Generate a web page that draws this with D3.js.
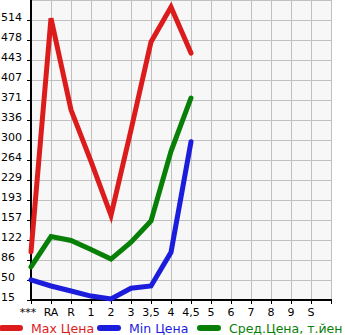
<!DOCTYPE html>
<html>
<head>
<meta charset="utf-8">
<script src="https://d3js.org/d3.v7.min.js"></script>
<style>
  body { margin: 0; background: #fff; }
  text { font-family: 'DejaVu Sans', sans-serif; }
</style>
</head>
<body>
<script>
  // categories on the x axis (last slot stays empty)
  var categories = ["***", "RA", "R", "1", "2", "3", "3,5", "4", "4,5", "5", "6", "7", "8", "9", "S"];
  // tick labels on the y axis
  var yTicks = [15, 50, 86, 122, 157, 193, 229, 264, 300, 336, 371, 407, 443, 478, 514];

  var maxPrice = [101, 517, 354, 262, 166, 318, 475, 537, 455];
  var minPrice = [51, 40, 31, 22, 17, 36, 40, 100, 297];
  var avgPrice = [74, 128, 121, 105, 88, 118, 156, 280, 375];

  var seriesNames = ["Max Цена", "Min Цена", "Сред.Цена, т.йен"];
  var seriesColors = ["#dc1c1c", "#1c1cdc", "#088008"];

  var W = 345, H = 335;
  var plotL = 31, plotR = 331, plotT = 0, plotB = 300;

  var svg = d3.select("body").append("svg")
    .attr("width", W)
    .attr("height", H);

  var step = (yTicks[yTicks.length - 1] - yTicks[0]) / (yTicks.length - 1);
  var y = d3.scaleLinear()
    .domain([yTicks[0], yTicks[yTicks.length - 1] + step])
    .range([plotB, plotT]);
  var x = d3.scaleLinear()
    .domain([0, categories.length])
    .range([plotL, plotR]);

  svg.append("rect")
    .attr("x", plotL).attr("y", plotT)
    .attr("width", plotR - plotL).attr("height", plotB - plotT)
    .attr("fill", "#f7f7f7");

  // grid
  var gridY = yTicks.concat([yTicks[yTicks.length - 1] + step]);
  svg.selectAll(".gy").data(gridY).enter().append("line")
    .attr("x1", plotL).attr("x2", plotR)
    .attr("y1", function(d) { return Math.round(y(d)) + 0.5; })
    .attr("y2", function(d) { return Math.round(y(d)) + 0.5; })
    .attr("stroke", "#c0c0c0");
  svg.selectAll(".gx").data(d3.range(1, categories.length + 1)).enter().append("line")
    .attr("x1", function(d) { return x(d) + 0.5; })
    .attr("x2", function(d) { return x(d) + 0.5; })
    .attr("y1", plotT).attr("y2", plotB)
    .attr("stroke", "#c0c0c0");

  // axes
  svg.append("line").attr("x1", plotL).attr("x2", plotL).attr("y1", plotT).attr("y2", plotB + 1)
    .attr("stroke", "#000").attr("stroke-width", 2);
  svg.append("line").attr("x1", plotL - 1).attr("x2", plotR + 1).attr("y1", plotB).attr("y2", plotB)
    .attr("stroke", "#000").attr("stroke-width", 2);

  svg.selectAll(".ty").data(yTicks).enter().append("line")
    .attr("x1", plotL - 4).attr("x2", plotL)
    .attr("y1", function(d) { return Math.round(y(d)) + 0.5; })
    .attr("y2", function(d) { return Math.round(y(d)) + 0.5; })
    .attr("stroke", "#000");
  svg.selectAll(".tx").data(d3.range(0, categories.length + 1)).enter().append("line")
    .attr("x1", function(d) { return x(d) + 0.5; })
    .attr("x2", function(d) { return x(d) + 0.5; })
    .attr("y1", plotB).attr("y2", plotB + 4)
    .attr("stroke", "#000");

  svg.selectAll(".ly").data(yTicks).enter().append("text")
    .attr("x", 1)
    .attr("y", function(d) { return y(d) + 1; })
    .attr("font-size", 11)
    .text(function(d) { return d; });

  svg.selectAll(".lx").data(categories).enter().append("text")
    .attr("x", function(d, i) { return x(i) - (i === 0 ? 3 : 0); })
    .attr("y", 316)
    .attr("text-anchor", "middle")
    .attr("font-size", 11)
    .text(function(d) { return d; });

  // lines
  var line = d3.line()
    .x(function(d, i) { return x(i); })
    .y(function(d) { return y(d); });

  [maxPrice, minPrice, avgPrice].forEach(function(s, k) {
    svg.append("path")
      .attr("d", line(s))
      .attr("fill", "none")
      .attr("stroke", seriesColors[k])
      .attr("stroke-width", 5)
      .attr("stroke-linejoin", "miter")
      .attr("stroke-linecap", "round");
  });

  // legend
  var legendX = [2, 100, 200];
  var lg = svg.selectAll(".lg").data(seriesNames).enter().append("g")
    .attr("transform", function(d, i) { return "translate(" + legendX[i] + ",328)"; });
  lg.append("line")
    .attr("x1", 0).attr("x2", 18)
    .attr("stroke", function(d, i) { return seriesColors[i]; })
    .attr("stroke-width", 6)
    .attr("stroke-linecap", "round");
  lg.append("text")
    .attr("x", 29).attr("y", 5)
    .attr("font-size", 12.5)
    .attr("fill", function(d, i) { return seriesColors[i]; })
    .text(function(d) { return d; });
</script>
</body>
</html>
